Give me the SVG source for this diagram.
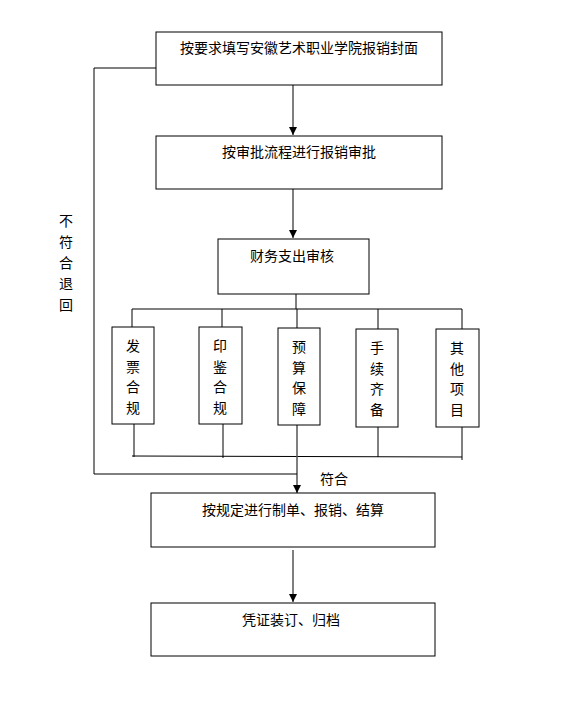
<svg xmlns="http://www.w3.org/2000/svg" width="564" height="711" viewBox="0 0 564 711">
<defs>
<style>
.box{fill:#fff;stroke:#000;stroke-width:1}
.t{font-family:"Noto Sans CJK SC","Liberation Sans",sans-serif;font-size:14px;fill:#000}
.m{text-anchor:middle}
.ln{fill:none;stroke:#000;stroke-width:1}
.ar{fill:none;stroke:#555;stroke-width:1.5}
</style>
<marker id="ah" viewBox="0 0 10 10" refX="10" refY="5" markerWidth="8" markerHeight="8" markerUnits="userSpaceOnUse" orient="auto">
<path d="M0,0 L10,5 L0,10 Z" fill="#000"/>
</marker>
</defs>
<rect width="564" height="711" fill="#fff"/>
<g id="connectors">
<line class="ar" x1="293" y1="85" x2="293" y2="135" marker-end="url(#ah)"/>
<line class="ar" x1="293" y1="189" x2="293" y2="238" marker-end="url(#ah)"/>
<line class="ln" x1="296" y1="294" x2="296" y2="309"/>
<line class="ln" x1="132" y1="309" x2="462" y2="309"/>
<line class="ln" x1="132" y1="309" x2="132" y2="327"/>
<line class="ln" x1="222" y1="309" x2="222" y2="327"/>
<line class="ln" x1="297" y1="309" x2="297" y2="328"/>
<line class="ln" x1="378" y1="309" x2="378" y2="329"/>
<line class="ln" x1="462" y1="309" x2="462" y2="329"/>
<line class="ln" x1="134" y1="424" x2="134" y2="457"/>
<line class="ln" x1="223" y1="424" x2="223" y2="458"/>
<line class="ln" x1="378" y1="427" x2="378" y2="457"/>
<line class="ln" x1="462" y1="427" x2="462" y2="460"/>
<line class="ln" x1="132" y1="456" x2="462" y2="457"/>
<line class="ar" x1="297" y1="425" x2="297" y2="493" marker-end="url(#ah)"/>
<polyline class="ln" points="158,68 94,68 94,474 297,474"/>
<line class="ar" x1="293" y1="550" x2="293" y2="602" marker-end="url(#ah)"/>
</g>
<g id="n1"><rect class="box" x="156" y="32" width="286" height="53"/><text class="t" x="180" y="53">按要求填写安徽艺术职业学院报销封面</text></g>
<g id="n2"><rect class="box" x="156" y="136" width="286" height="53"/><text class="t" x="222" y="157">按审批流程进行报销审批</text></g>
<g id="n3"><rect class="box" x="218" y="239" width="151" height="55"/><text class="t" x="250" y="261">财务支出审核</text></g>
<g id="c1"><rect class="box" x="112" y="327" width="42" height="97"/><text class="t m" x="133"><tspan x="133" y="351">发</tspan><tspan x="133" y="372">票</tspan><tspan x="133" y="392">合</tspan><tspan x="133" y="413">规</tspan></text></g>
<g id="c2"><rect class="box" x="199" y="327" width="43" height="97"/><text class="t m" x="220"><tspan x="220" y="351">印</tspan><tspan x="220" y="372">鉴</tspan><tspan x="220" y="392">合</tspan><tspan x="220" y="413">规</tspan></text></g>
<g id="c3"><rect class="box" x="278" y="328" width="42" height="97"/><text class="t m" x="299"><tspan x="299" y="352">预</tspan><tspan x="299" y="373">算</tspan><tspan x="299" y="393">保</tspan><tspan x="299" y="414">障</tspan></text></g>
<g id="c4"><rect class="box" x="356" y="329" width="42" height="98"/><text class="t m" x="377"><tspan x="377" y="353">手</tspan><tspan x="377" y="374">续</tspan><tspan x="377" y="394">齐</tspan><tspan x="377" y="415">备</tspan></text></g>
<g id="c5"><rect class="box" x="436" y="329" width="43" height="98"/><text class="t m" x="457"><tspan x="457" y="353">其</tspan><tspan x="457" y="374">他</tspan><tspan x="457" y="394">项</tspan><tspan x="457" y="415">目</tspan></text></g>
<g id="n4"><rect class="box" x="151" y="493" width="284" height="54"/><text class="t" x="202" y="515">按规定进行制单、报销、结算</text></g>
<g id="n5"><rect class="box" x="151" y="603" width="284" height="53"/><text class="t" x="242" y="625">凭证装订、归档</text></g>
<g id="labels">
<text class="t" x="320" y="484">符合</text>
<text class="t m" x="66"><tspan x="66" y="226">不</tspan><tspan x="66" y="247">符</tspan><tspan x="66" y="268">合</tspan><tspan x="66" y="289">退</tspan><tspan x="66" y="310">回</tspan></text>
</g>
</svg>
